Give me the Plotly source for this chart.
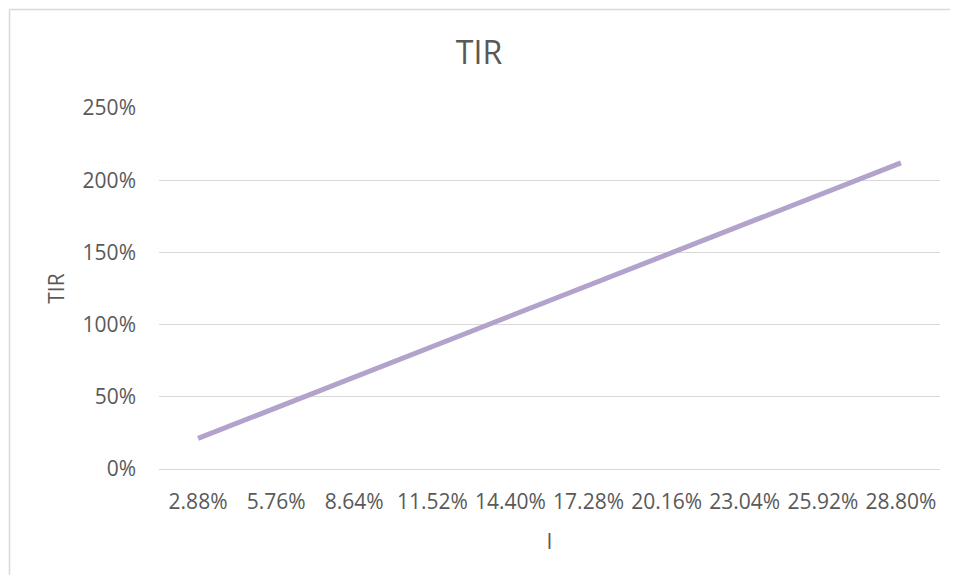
import plotly.graph_objects as go

# taxa i (categorias do eixo x) e TIR resultante
taxas = ['2.88%', '5.76%', '8.64%', '11.52%', '14.40%',
         '17.28%', '20.16%', '23.04%', '25.92%', '28.80%']
tir = [0.212, 0.424, 0.636, 0.848, 1.060, 1.272, 1.484, 1.696, 1.908, 2.120]

# a pagina tem 8px de margem no body, por isso a figura e menor
W, H = 942, 567
ml, mr, mt, mb = 151, 10, 100, 106
pw, ph = W - ml - mr, H - mt - mb

cor_linha = '#b3a3cc'
cinza = '#d9d9d9'
texto = '#595959'
fonte = 'Open Sans'

fig = go.Figure()
fig.add_trace(go.Scatter(
    x=taxas, y=tir, mode='lines',
    line=dict(color=cor_linha, width=5),
    showlegend=False,
    hoverinfo='x+y',
))

# borda do grafico (estilo excel), sai pela direita e por baixo
bx = (1.5 - ml) / pw
by = (H - mb - 1.5) / ph
fig.add_shape(type='line', xref='paper', yref='paper',
              x0=bx, x1=bx, y0=by, y1=-1, line=dict(color=cinza, width=1.5))
fig.add_shape(type='line', xref='paper', yref='paper',
              x0=bx, x1=1.5, y0=by, y1=by, line=dict(color=cinza, width=1.5))

fig.update_layout(
    width=W, height=H,
    margin=dict(l=ml, r=mr, t=mt, b=mb),
    paper_bgcolor='white', plot_bgcolor='white',
    font=dict(family=fonte, color=texto, size=21),
    title=dict(text='TIR', x=0.5, xanchor='center', y=1 - 45 / H, yanchor='middle',
               font=dict(size=32, color=texto)),
    xaxis=dict(
        type='category', range=[-0.5, 9.5],
        showgrid=False, zeroline=False,
        showline=False, ticks='', ticklabelstandoff=18,
        title=dict(text='I', standoff=20, font=dict(size=21)),
        tickfont=dict(size=21),
    ),
    yaxis=dict(
        range=[0, 2.5], dtick=0.5, tickformat='.0%',
        showgrid=True, gridcolor=cinza, gridwidth=1,
        zeroline=True, zerolinecolor=cinza, zerolinewidth=1,
        showline=False, ticks='', ticklabelstandoff=22,
        title=dict(text='TIR', standoff=12, font=dict(size=21)),
        tickfont=dict(size=21),
    ),
)

fig.write_html('out.html')
